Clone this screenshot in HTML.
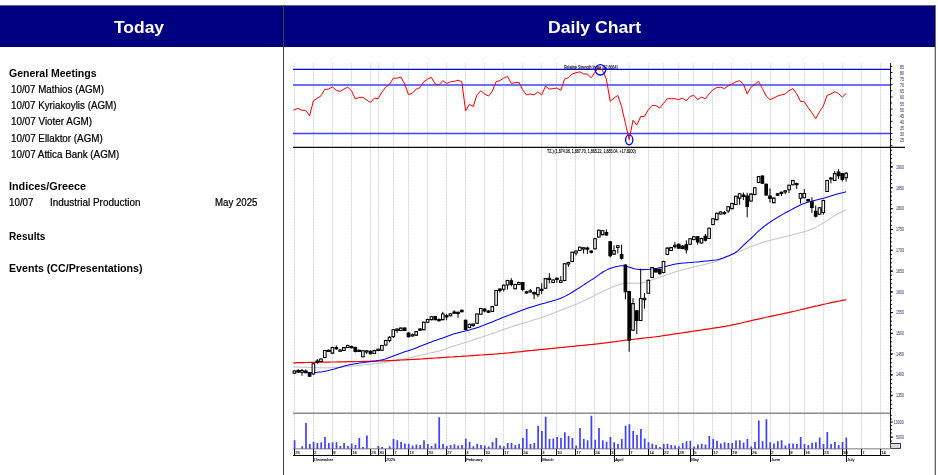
<!DOCTYPE html>
<html><head><meta charset="utf-8"><title>Daily</title>
<style>
html,body{margin:0;padding:0;background:#fff;}
body{width:938px;height:475px;position:relative;overflow:hidden;font-family:"Liberation Sans",sans-serif;color:#000;}
.hdr{position:absolute;left:0;top:5px;width:936px;height:42px;background:#000080;box-sizing:border-box;border-top:1px solid #686868;border-right:1px solid #6e6e6e;}
.vline{position:absolute;left:283px;top:5px;width:1px;height:470px;background:#404040;}
.rline{position:absolute;left:934px;top:47px;width:2px;height:428px;background:linear-gradient(90deg,#c4c4c4 0,#c4c4c4 50%,#6a6a6a 50%,#6a6a6a 100%);}
.h{position:absolute;top:17px;transform-origin:0 50%;color:#fff;font-weight:bold;font-size:16.5px;line-height:20px;white-space:nowrap;}
.t{position:absolute;font-size:10px;line-height:13px;white-space:nowrap;transform-origin:0 50%;}
.r{transform:scaleX(0.978);-webkit-text-stroke:0.22px #000;}
.b{font-weight:bold;transform:scaleX(1.05);}
</style></head><body>
<div class="hdr"></div><div class="vline"></div><div class="rline"></div>
<div class="h" id="h1" style="left:113.5px;transform:scaleX(1.057)">Today</div>
<div class="h" id="h2" style="left:548px;transform:scaleX(1.068)">Daily Chart</div>
<div class="t b" id="t1" style="left:9px;top:67.03px">General Meetings</div>
<div class="t r" id="t2" style="left:10.6px;top:83.03px">10/07 Mathios (AGM)</div>
<div class="t r" id="t3" style="left:10.6px;top:99.03px">10/07 Kyriakoylis (AGM)</div>
<div class="t r" id="t4" style="left:10.6px;top:115.03px;transform:scaleX(0.988)">10/07 Vioter AGM)</div>
<div class="t r" id="t5" style="left:10.6px;top:132.03px;transform:scaleX(0.983)">10/07 Ellaktor (AGM)</div>
<div class="t r" id="t6" style="left:10.6px;top:148.03px;transform:scaleX(0.984)">10/07 Attica Bank (AGM)</div>
<div class="t b" id="t7" style="left:9px;top:180.03px;transform:scaleX(1.082)">Indices/Greece</div>
<div class="t r" id="t8" style="left:9px;top:196.03px">10/07</div>
<div class="t r" id="t9" style="left:49.7px;top:196.03px;transform:scaleX(0.992)">Industrial Production</div>
<div class="t r" id="t10" style="left:214.9px;top:196.03px;transform:scaleX(0.967)">May 2025</div>
<div class="t b" id="t11" style="left:9px;top:230.03px;transform:scaleX(1.008)">Results</div>
<div class="t b" id="t12" style="left:9px;top:262.04px;transform:scaleX(1.0635)">Events (CC/Presentations)</div>
<svg width="938" height="475" viewBox="0 0 938 475" style="position:absolute;left:0;top:0" font-family="Liberation Sans, sans-serif">
<path d="M294.5 63V448M313.5 63V448M332.5 63V448M351.5 63V448M370.5 63V448M378.5 63V448M393.5 63V448M408.5 63V448M427.5 63V448M446.5 63V448M465.5 63V448M484.5 63V448M503.5 63V448M522.5 63V448M541.5 63V448M556.5 63V448M575.5 63V448M594.5 63V448M610.5 63V448M629.5 63V448M648.5 63V448M663.5 63V448M678.5 63V448M693.5 63V448M712.5 63V448M731.5 63V448M751.5 63V448M770.5 63V448M789.5 63V448M804.5 63V448M823.5 63V448M842.5 63V448M861.5 63V448M880.5 63V448" stroke="#e8e8e8" stroke-width="1.2" fill="none"/>
<path d="M294.5 63V448M313.5 63V448M332.5 63V448M351.5 63V448M370.5 63V448M378.5 63V448M393.5 63V448M408.5 63V448M427.5 63V448M446.5 63V448M465.5 63V448M484.5 63V448M503.5 63V448M522.5 63V448M541.5 63V448M556.5 63V448M575.5 63V448M594.5 63V448M610.5 63V448M629.5 63V448M648.5 63V448M663.5 63V448M678.5 63V448M693.5 63V448M712.5 63V448M731.5 63V448M751.5 63V448M770.5 63V448M789.5 63V448M804.5 63V448M823.5 63V448M842.5 63V448M861.5 63V448M880.5 63V448" stroke="#dddddd" stroke-width="1.2" stroke-dasharray="1.2 1.8" fill="none"/>
<path d="M293 69.35H890" stroke="#0000ff" stroke-width="1.3"/>
<path d="M293 84.9H890" stroke="#7070ff" stroke-width="2.05"/>
<path d="M293 133.6H890" stroke="#4242ff" stroke-width="1.5"/>
<polyline points="293.4,110.1 298.2,108.4 302,110.3 305.8,110.5 309.6,115.8 313.4,100.8 317.2,98.3 321,95.8 324.8,89.3 328.6,89.1 332.4,86.9 336.3,90.3 340.1,91.4 343.9,89.1 347.7,87.2 351.5,90.7 355.3,98.9 359.1,97.5 362.9,97.3 366.7,100 370.5,102.5 374.3,98.1 378.1,98.7 381.9,92.2 385.7,87.2 389.5,84.4 393.3,78.3 397.1,78.1 400.9,77.1 404.7,84 408.5,94.7 412.4,93.1 416.2,89.1 420,87.6 423.8,81.7 427.6,79.2 431.4,77.3 435.2,84 439,84.8 442.8,80.6 446.6,83.4 450.4,81.9 454.2,81.3 458,80.2 461.8,81.7 465.6,110.7 469.4,104.4 473.2,106.5 477,94.9 480.8,90.7 484.6,93.9 488.5,96 492.3,91.2 496.1,81.7 499.9,80.6 503.7,78.1 507.5,76.4 511.3,83.4 515.1,82.7 518.9,82.3 522.7,89.7 526.5,94.9 530.3,93.9 534.1,94.9 537.9,91.8 541.7,94.9 545.5,86.1 549.3,89.1 553.1,88.6 556.9,88 560.8,90.3 564.6,79.2 568.4,77.7 572.2,73.9 576,72.8 579.8,71.8 583.6,73.9 587.4,73.9 591.2,77.9 595,72.2 598.8,67.6 602.6,70.7 606.4,79.2 610.2,101.3 614,98.1 617.8,95.4 621.6,106.5 625.4,123.4 629.2,139.6 633,120.2 636.8,125.1 640.7,116.6 644.5,116.4 648.3,109.7 652.1,105.5 655.9,105.5 659.7,108 663.5,103.4 667.3,98.7 671.1,98.7 674.9,98.7 678.7,99.6 682.5,98.1 686.3,100.8 690.1,96.4 693.9,95.4 697.7,99.6 701.5,97.1 705.3,98.7 709.1,93.9 713,89.7 716.8,87.6 720.6,87.2 724.4,88.6 728.2,85.9 732,84 735.8,81.9 739.6,80.6 743.4,84 747.2,93.9 751,87.2 754.8,84.4 758.6,81.3 762.4,88.6 766.2,96 770,99.6 773.8,98.1 777.6,96 781.4,94.9 785.2,93.9 789,90.7 792.9,88.6 796.7,93.9 800.5,101.3 804.3,101.7 808.1,107.6 811.9,112.8 815.7,118.7 819.5,111.8 823.3,106.1 827.1,95.4 830.9,93.9 834.7,91.8 838.5,93.5 842.3,97.1 846.1,93.5" fill="none" stroke="#ff0000" stroke-width="1" stroke-linejoin="round"/>
<path d="M293 147.4H905" stroke="#080808" stroke-width="1.4"/>
<path d="M293 413.2H890" stroke="#8c8c8c" stroke-width="1.6"/>
<path d="M293 448.7H890" stroke="#a6a6a6" stroke-width="1.4"/>
<path d="M293 455.5H890" stroke="#000" stroke-width="1.2"/>
<path d="M890.5 63V443.5" stroke="#000" stroke-width="0.9"/>
<path d="M890 66.4h2.2M890 72.5h2.6M890 78.6h2.2M890 84.7h2.6M890 90.8h2.2M890 96.9h2.6M890 103h2.2M890 109.1h2.6M890 115.2h2.2M890 121.3h2.6M890 127.4h2.2M890 133.5h2.6M890 139.6h2.2M890 145.7h2.6M890 150.3h2.1M890 154.5h2.1M890 158.6h2.1M890 162.8h2.1M890 167h2.1M890 171.1h2.1M890 175.3h2.1M890 179.5h2.1M890 183.6h2.1M890 187.8h2.1M890 192h2.1M890 196.1h2.1M890 200.3h2.1M890 204.4h2.1M890 208.6h2.1M890 212.8h2.1M890 216.9h2.1M890 221.1h2.1M890 225.3h2.1M890 229.4h2.1M890 233.6h2.1M890 237.8h2.1M890 241.9h2.1M890 246.1h2.1M890 250.3h2.1M890 254.4h2.1M890 258.6h2.1M890 262.8h2.1M890 266.9h2.1M890 271.1h2.1M890 275.2h2.1M890 279.4h2.1M890 283.6h2.1M890 287.7h2.1M890 291.9h2.1M890 296.1h2.1M890 300.2h2.1M890 304.4h2.1M890 308.6h2.1M890 312.7h2.1M890 316.9h2.1M890 321.1h2.1M890 325.2h2.1M890 329.4h2.1M890 333.6h2.1M890 337.7h2.1M890 341.9h2.1M890 346.1h2.1M890 350.2h2.1M890 354.4h2.1M890 358.6h2.1M890 362.7h2.1M890 366.9h2.1M890 371h2.1M890 375.2h2.1M890 379.4h2.1M890 383.5h2.1M890 387.7h2.1M890 391.9h2.1M890 396h2.1M890 400.2h2.1M890 404.4h2.1M890 408.5h2.1M890 415.3h2.1M890 419h2.1M890 425.6h2.1M890 429.3h2.1M890 433h2.1M890 441h2.1" stroke="#000" stroke-width="0.9"/>
<text x="564" y="69.1" font-size="4.6" textLength="53.8" lengthAdjust="spacingAndGlyphs" fill="#000" stroke="#000" stroke-width="0.12">Relative Strength Index (82.6664)</text>
<text x="547" y="153.4" font-size="4.8" textLength="88.8" lengthAdjust="spacingAndGlyphs" fill="#000" stroke="#000" stroke-width="0.12">TZ.) (1,874.08, 1,887.70, 1,865.22, 1,885.04, +17.8200)</text>
<circle cx="600.4" cy="69.8" r="5.2" fill="none" stroke="#0000ff" stroke-width="1.3"/>
<ellipse cx="629.2" cy="139.8" rx="3.6" ry="5" fill="none" stroke="#0000ff" stroke-width="1.3"/>
<path d="M294.6 440.2V448.7M302.2 446.2V448.7M306 423.1V448.7M309.8 444V448.7M313.6 441.7V448.7M317.4 443V448.7M321.2 442.3V448.7M325 437V448.7M328.8 443V448.7M332.6 442.3V448.7M336.5 442.3V448.7M340.3 445.9V448.7M344.1 443V448.7M347.9 445.9V448.7M351.7 443.4V448.7M355.5 444.9V448.7M359.3 438V448.7M363.1 447V448.7M366.9 435.5V448.7M378.3 445.9V448.7M382.1 447V448.7M389.7 446.2V448.7M393.5 439.1V448.7M397.3 440.2V448.7M401.1 441.9V448.7M404.9 443.4V448.7M408.7 443.8V448.7M412.6 445.5V448.7M416.4 444.4V448.7M420.2 444.9V448.7M424 440.2V448.7M427.8 444V448.7M431.6 445.9V448.7M435.4 443.4V448.7M439.2 417.2V448.7M443 443.8V448.7M446.8 445.9V448.7M450.6 444.9V448.7M454.4 444.2V448.7M458.2 445.5V448.7M462 444.9V448.7M465.8 438.7V448.7M469.6 441.7V448.7M473.4 446.2V448.7M477.2 443.8V448.7M481 444.9V448.7M484.8 445.5V448.7M488.7 446.6V448.7M492.5 441.9V448.7M496.3 438V448.7M500.1 445.5V448.7M503.9 446.2V448.7M507.7 443V448.7M511.5 443V448.7M515.3 445.1V448.7M519.1 443.8V448.7M522.9 438V448.7M526.7 429.1V448.7M530.5 444V448.7M534.3 443V448.7M538.1 425.7V448.7M541.9 431V448.7M545.7 416.7V448.7M549.5 439.1V448.7M553.3 438.5V448.7M557.1 437V448.7M561 438V448.7M564.8 432.3V448.7M568.6 435.9V448.7M572.4 438V448.7M576.2 445.5V448.7M580 428V448.7M583.8 439.1V448.7M587.6 440.2V448.7M591.4 415.7V448.7M595.2 439.8V448.7M599 428V448.7M602.8 440.2V448.7M606.6 441.7V448.7M610.4 437V448.7M614.2 442.3V448.7M618 444V448.7M621.8 439.1V448.7M625.6 425.7V448.7M629.4 424.2V448.7M633.2 431V448.7M637 434.9V448.7M640.9 429.1V448.7M644.7 438.5V448.7M648.5 442.3V448.7M652.3 443.8V448.7M656.1 444.9V448.7M659.9 447V448.7M663.7 443.8V448.7M667.5 443.8V448.7M671.3 444.9V448.7M675.1 445.5V448.7M678.9 446.2V448.7M682.7 443V448.7M686.5 441.2V448.7M690.3 440.8V448.7M694.1 446.6V448.7M697.9 444.4V448.7M701.7 443.8V448.7M705.5 444.4V448.7M709.3 435.9V448.7M713.2 439.1V448.7M717 440.8V448.7M720.8 443.4V448.7M724.6 442.3V448.7M728.4 443V448.7M732.2 443V448.7M736 440.6V448.7M739.8 440.2V448.7M743.6 442.7V448.7M747.4 439.1V448.7M751.2 446.6V448.7M755 441.9V448.7M758.8 420.4V448.7M762.6 441.2V448.7M766.4 419.3V448.7M770.2 442.3V448.7M774 443.4V448.7M777.8 441.2V448.7M781.6 440.2V448.7M785.4 445.5V448.7M789.2 443.4V448.7M793.1 443.4V448.7M796.9 444V448.7M800.7 437V448.7M804.5 444V448.7M808.3 445.1V448.7M812.1 442.7V448.7M815.9 442.3V448.7M819.7 437.4V448.7M823.5 444V448.7M827.3 432.1V448.7M831.1 444V448.7M834.9 441.9V448.7M838.7 444.9V448.7M842.5 441.9V448.7M846.3 437.4V448.7" stroke="#4040ff" stroke-width="1.7" fill="none"/>
<polyline points="293.4,366.9 295.4,367 297.4,367.1 299.4,367.1 301.4,367.2 303.4,367.3 305.4,367.3 307.4,367.4 309.4,367.5 311.4,367.5 313.4,367.6 315.4,367.7 317.4,367.7 319.4,367.8 321.4,367.8 323.4,367.8 325.4,367.8 327.4,367.8 329.4,367.7 331.4,367.6 333.4,367.6 335.4,367.5 337.4,367.4 339.4,367.2 341.4,367.1 343.4,366.9 345.4,366.7 347.4,366.5 349.4,366.3 351.4,366.1 353.4,365.9 355.4,365.7 357.4,365.5 359.4,365.3 361.4,365.1 363.4,364.9 365.4,364.7 367.4,364.5 369.4,364.3 371.4,364.1 373.4,363.9 375.4,363.7 377.4,363.5 379.4,363.3 381.4,363 383.4,362.7 385.4,362.4 387.4,362.1 389.4,361.8 391.4,361.4 393.4,361.1 395.4,360.7 397.4,360.4 399.4,360 401.4,359.6 403.4,359.2 405.4,358.8 407.4,358.3 409.4,357.9 411.4,357.5 413.4,357 415.4,356.5 417.4,356 419.4,355.6 421.4,355.1 423.4,354.6 425.4,354.1 427.4,353.7 429.4,353.2 431.4,352.7 433.4,352.3 435.4,351.8 437.4,351.4 439.4,350.9 441.4,350.4 443.4,349.8 445.4,349.1 447.4,348.3 449.4,347.5 451.4,346.8 453.4,346.1 455.4,345.5 457.4,344.9 459.4,344.3 461.4,343.7 463.4,343.1 465.4,342.5 467.4,341.9 469.4,341.3 471.4,340.6 473.4,339.9 475.4,339.3 477.4,338.6 479.4,337.9 481.4,337.3 483.4,336.6 485.4,335.9 487.4,335.3 489.4,334.6 491.4,333.9 493.4,333.2 495.4,332.4 497.4,331.7 499.4,331 501.4,330.3 503.4,329.5 505.4,328.9 507.4,328.2 509.4,327.5 511.4,326.8 513.4,326.2 515.4,325.5 517.4,324.9 519.4,324.3 521.4,323.7 523.4,323.1 525.4,322.5 527.4,321.9 529.4,321.3 531.4,320.7 533.4,320.1 535.4,319.5 537.4,318.9 539.4,318.3 541.4,317.6 543.4,316.9 545.4,316.2 547.4,315.5 549.4,314.7 551.4,314 553.4,313.2 555.4,312.4 557.4,311.6 559.4,310.8 561.4,310 563.4,309.1 565.4,308.3 567.4,307.6 569.4,306.8 571.4,306.1 573.4,305.3 575.4,304.6 577.4,303.8 579.4,302.9 581.4,302 583.4,301 585.4,300.1 587.4,299.1 589.4,298.1 591.4,297.1 593.4,296.1 595.4,295.1 597.4,294.1 599.4,293.1 601.4,292.1 603.4,291.1 605.4,290.2 607.4,289.2 609.4,288.3 611.4,287.4 613.4,286.6 615.4,285.8 617.4,285 619.4,284.4 621.4,284 623.4,283.6 625.4,283.4 627.4,283.3 629.4,283.2 631.4,283.2 633.4,283.2 635.4,283.2 637.4,283.2 639.4,283.1 641.4,282.9 643.4,282.6 645.4,282.1 647.4,281.5 649.4,280.9 651.4,280.2 653.4,279.5 655.4,278.8 657.4,278 659.4,277.3 661.4,276.6 663.4,275.9 665.4,275.2 667.4,274.5 669.4,273.8 671.4,273.2 673.4,272.5 675.4,271.9 677.4,271.3 679.4,270.7 681.4,270.1 683.4,269.5 685.4,269 687.4,268.5 689.4,268 691.4,267.5 693.4,267 695.4,266.5 697.4,266.1 699.4,265.7 701.4,265.2 703.4,264.7 705.4,264.3 707.4,263.8 709.4,263.3 711.4,262.8 713.4,262.3 715.4,261.6 717.4,261 719.4,260.2 721.4,259.3 723.4,258.4 725.4,257.5 727.4,256.5 729.4,255.7 731.4,254.8 733.4,254 735.4,253.2 737.4,252.4 739.4,251.5 741.4,250.6 743.4,249.7 745.4,248.9 747.4,248.1 749.4,247.3 751.4,246.5 753.4,245.8 755.4,245 757.4,244.3 759.4,243.5 761.4,242.8 763.4,242.2 765.4,241.6 767.4,241.1 769.4,240.6 771.4,240.1 773.4,239.6 775.4,239.1 777.4,238.6 779.4,238.1 781.4,237.6 783.4,237.1 785.4,236.6 787.4,236.1 789.4,235.6 791.4,235.1 793.4,234.6 795.4,234.1 797.4,233.6 799.4,233 801.4,232.5 803.4,232 805.4,231.4 807.4,230.7 809.4,230 811.4,229.2 813.4,228.4 815.4,227.5 817.4,226.5 819.4,225.4 821.4,224.2 823.4,223 825.4,221.7 827.4,220.3 829.4,219 831.4,217.7 833.4,216.4 835.4,215.2 837.4,214.1 839.4,213 841.4,212 843.4,211 845.4,210.2 846.1,209.5" fill="none" stroke="#bcbcbc" stroke-width="1" stroke-linejoin="round"/>
<polyline points="293.3,362.8 295.3,362.8 297.3,362.7 299.3,362.7 301.3,362.6 303.3,362.6 305.3,362.5 307.3,362.5 309.3,362.4 311.3,362.4 313.3,362.3 315.3,362.3 317.3,362.3 319.3,362.2 321.3,362.2 323.3,362.2 325.3,362.1 327.3,362.1 329.3,362.1 331.3,362 333.3,362 335.3,362 337.3,361.9 339.3,361.9 341.3,361.8 343.3,361.8 345.3,361.8 347.3,361.7 349.3,361.7 351.3,361.7 353.3,361.6 355.3,361.6 357.3,361.5 359.3,361.5 361.3,361.5 363.3,361.4 365.3,361.4 367.3,361.3 369.3,361.3 371.3,361.2 373.3,361.2 375.3,361.1 377.3,361.1 379.3,361 381.3,360.9 383.3,360.8 385.3,360.8 387.3,360.7 389.3,360.6 391.3,360.5 393.3,360.4 395.3,360.3 397.3,360.2 399.3,360.1 401.3,360 403.3,359.9 405.3,359.8 407.3,359.7 409.3,359.6 411.3,359.5 413.3,359.4 415.3,359.3 417.3,359.2 419.3,359.1 421.3,359 423.3,358.8 425.3,358.7 427.3,358.6 429.3,358.4 431.3,358.3 433.3,358.2 435.3,358 437.3,357.9 439.3,357.8 441.3,357.6 443.3,357.5 445.3,357.4 447.3,357.2 449.3,357.1 451.3,357 453.3,356.9 455.3,356.7 457.3,356.6 459.3,356.5 461.3,356.4 463.3,356.2 465.3,356.1 467.3,356 469.3,355.8 471.3,355.7 473.3,355.6 475.3,355.4 477.3,355.3 479.3,355.1 481.3,355 483.3,354.9 485.3,354.7 487.3,354.6 489.3,354.4 491.3,354.3 493.3,354.2 495.3,354 497.3,353.9 499.3,353.7 501.3,353.5 503.3,353.4 505.3,353.2 507.3,353 509.3,352.8 511.3,352.6 513.3,352.4 515.3,352.2 517.3,352 519.3,351.8 521.3,351.6 523.3,351.3 525.3,351.1 527.3,350.9 529.3,350.7 531.3,350.5 533.3,350.3 535.3,350.1 537.3,349.9 539.3,349.7 541.3,349.5 543.3,349.3 545.3,349.1 547.3,348.9 549.3,348.7 551.3,348.5 553.3,348.3 555.3,348.1 557.3,347.9 559.3,347.7 561.3,347.5 563.3,347.3 565.3,347.1 567.3,346.9 569.3,346.7 571.3,346.5 573.3,346.3 575.3,346.1 577.3,345.9 579.3,345.7 581.3,345.5 583.3,345.3 585.3,345.1 587.3,344.9 589.3,344.7 591.3,344.5 593.3,344.3 595.3,344.1 597.3,343.9 599.3,343.7 601.3,343.4 603.3,343.2 605.3,342.9 607.3,342.7 609.3,342.4 611.3,342.1 613.3,341.8 615.3,341.6 617.3,341.3 619.3,341 621.3,340.7 623.3,340.5 625.3,340.2 627.3,340 629.3,339.7 631.3,339.5 633.3,339.3 635.3,339 637.3,338.8 639.3,338.6 641.3,338.4 643.3,338.2 645.3,338 647.3,337.7 649.3,337.5 651.3,337.3 653.3,337 655.3,336.8 657.3,336.5 659.3,336.3 661.3,336 663.3,335.7 665.3,335.4 667.3,335.1 669.3,334.8 671.3,334.5 673.3,334.2 675.3,333.9 677.3,333.6 679.3,333.3 681.3,333 683.3,332.7 685.3,332.4 687.3,332.1 689.3,331.8 691.3,331.5 693.3,331.2 695.3,330.9 697.3,330.6 699.3,330.3 701.3,330 703.3,329.7 705.3,329.4 707.3,329.1 709.3,328.8 711.3,328.5 713.3,328.2 715.3,327.9 717.3,327.6 719.3,327.3 721.3,326.9 723.3,326.6 725.3,326.3 727.3,325.9 729.3,325.6 731.3,325.2 733.3,324.7 735.3,324.3 737.3,323.9 739.3,323.4 741.3,323 743.3,322.5 745.3,322 747.3,321.6 749.3,321.1 751.3,320.7 753.3,320.2 755.3,319.7 757.3,319.3 759.3,318.8 761.3,318.4 763.3,317.9 765.3,317.5 767.3,317 769.3,316.6 771.3,316.2 773.3,315.8 775.3,315.4 777.3,314.9 779.3,314.5 781.3,314.1 783.3,313.7 785.3,313.2 787.3,312.8 789.3,312.4 791.3,311.9 793.3,311.4 795.3,311 797.3,310.5 799.3,310 801.3,309.5 803.3,309.1 805.3,308.6 807.3,308.1 809.3,307.6 811.3,307.2 813.3,306.7 815.3,306.2 817.3,305.8 819.3,305.3 821.3,304.8 823.3,304.4 825.3,304 827.3,303.5 829.3,303.1 831.3,302.7 833.3,302.2 835.3,301.8 837.3,301.4 839.3,301 841.3,300.6 843.3,300.2 845.3,299.9 846.3,299.5" fill="none" stroke="#ff0000" stroke-width="1.2" stroke-linejoin="round"/>
<polyline points="293.4,371.7 295.4,371.8 297.4,371.8 299.4,371.9 301.4,372 303.4,372.1 305.4,372.2 307.4,372.3 309.4,372.4 311.4,372.5 313.4,372.5 315.4,372.4 317.4,372.3 319.4,372.1 321.4,371.9 323.4,371.6 325.4,371.2 327.4,370.8 329.4,370.3 331.4,369.8 333.4,369.3 335.4,368.7 337.4,368.1 339.4,367.5 341.4,366.9 343.4,366.3 345.4,365.8 347.4,365.3 349.4,364.8 351.4,364.4 353.4,364 355.4,363.7 357.4,363.4 359.4,363.1 361.4,362.8 363.4,362.6 365.4,362.3 367.4,362.1 369.4,361.8 371.4,361.6 373.4,361.3 375.4,361 377.4,360.6 379.4,360.3 381.4,359.9 383.4,359.5 385.4,359 387.4,358.3 389.4,357.6 391.4,356.8 393.4,356 395.4,355.2 397.4,354.4 399.4,353.7 401.4,353 403.4,352.2 405.4,351.6 407.4,351 409.4,350.3 411.4,349.7 413.4,349 415.4,348.2 417.4,347.4 419.4,346.6 421.4,345.8 423.4,345 425.4,344.2 427.4,343.4 429.4,342.6 431.4,341.9 433.4,341.1 435.4,340.4 437.4,339.7 439.4,339.1 441.4,338.4 443.4,337.7 445.4,336.9 447.4,336.2 449.4,335.5 451.4,334.7 453.4,334.1 455.4,333.5 457.4,333 459.4,332.5 461.4,332 463.4,331.5 465.4,331 467.4,330.4 469.4,329.9 471.4,329.3 473.4,328.7 475.4,328.2 477.4,327.5 479.4,326.9 481.4,326.1 483.4,325.4 485.4,324.6 487.4,323.8 489.4,323 491.4,322.2 493.4,321.4 495.4,320.6 497.4,319.8 499.4,318.9 501.4,318.1 503.4,317.3 505.4,316.5 507.4,315.7 509.4,315 511.4,314.2 513.4,313.4 515.4,312.7 517.4,311.9 519.4,311.2 521.4,310.5 523.4,309.7 525.4,309 527.4,308.3 529.4,307.6 531.4,307 533.4,306.4 535.4,305.8 537.4,305.2 539.4,304.6 541.4,304 543.4,303.4 545.4,302.9 547.4,302.3 549.4,301.7 551.4,301.2 553.4,300.6 555.4,300.1 557.4,299.5 559.4,298.8 561.4,298 563.4,297.1 565.4,296.1 567.4,295 569.4,293.9 571.4,292.7 573.4,291.5 575.4,290.2 577.4,288.9 579.4,287.7 581.4,286.4 583.4,285.1 585.4,283.7 587.4,282.4 589.4,281.1 591.4,279.9 593.4,278.7 595.4,277.4 597.4,275.9 599.4,274.4 601.4,273 603.4,271.8 605.4,270.6 607.4,269.6 609.4,268.8 611.4,268 613.4,267.4 615.4,266.8 617.4,266.4 619.4,266 621.4,265.8 623.4,265.8 625.4,266 627.4,266.5 629.4,267.2 631.4,267.8 633.4,268.4 635.4,268.9 637.4,269.2 639.4,269.5 641.4,269.6 643.4,269.6 645.4,269.5 647.4,269.4 649.4,269.3 651.4,269.1 653.4,268.8 655.4,268.5 657.4,268.2 659.4,267.8 661.4,267.4 663.4,267 665.4,266.5 667.4,266 669.4,265.5 671.4,265 673.4,264.5 675.4,264 677.4,263.7 679.4,263.5 681.4,263.3 683.4,263.1 685.4,262.9 687.4,262.7 689.4,262.6 691.4,262.4 693.4,262.2 695.4,262.1 697.4,261.9 699.4,261.7 701.4,261.5 703.4,261.3 705.4,261.1 707.4,260.9 709.4,260.7 711.4,260.5 713.4,260.3 715.4,260.1 717.4,259.8 719.4,259.3 721.4,258.6 723.4,257.9 725.4,257.1 727.4,256.3 729.4,255.5 731.4,254.6 733.4,253.7 735.4,252.5 737.4,251.1 739.4,249.3 741.4,247.3 743.4,245.3 745.4,243.5 747.4,241.7 749.4,239.9 751.4,238 753.4,236.1 755.4,234.1 757.4,232.2 759.4,230.4 761.4,228.6 763.4,227 765.4,225.4 767.4,224 769.4,222.6 771.4,221.2 773.4,219.9 775.4,218.7 777.4,217.4 779.4,216.2 781.4,215.1 783.4,213.9 785.4,212.8 787.4,211.7 789.4,210.7 791.4,209.6 793.4,208.5 795.4,207.5 797.4,206.5 799.4,205.5 801.4,204.5 803.4,203.7 805.4,203 807.4,202.3 809.4,201.8 811.4,201.2 813.4,200.7 815.4,200.2 817.4,199.7 819.4,199.2 821.4,198.7 823.4,198.2 825.4,197.7 827.4,197.1 829.4,196.5 831.4,195.8 833.4,195.2 835.4,194.6 837.4,194 839.4,193.4 841.4,192.9 843.4,192.4 845.4,191.9 846.1,191.6" fill="none" stroke="#0000ff" stroke-width="1.05" stroke-linejoin="round"/>
<path d="M294.4 370.3V374M298.2 369.1V372.6M302 368.9V375.7M305.8 369.4V372.9M309.6 372.2V376.8M313.4 363.1V374.6M317.2 359V363.8M321 358.3V362.2M324.8 349.8V358.2M328.6 349.5V352.1M332.4 346.7V353.8M336.3 345.4V349.9M340.1 349.2V351.9M343.9 346.9V351.1M347.7 344.7V348.1M351.5 345.7V348.3M355.3 346.7V352.4M359.1 349.5V352.1M362.9 350.1V357.4M366.7 350.1V353.9M370.5 350.5V354.4M374.3 349.9V354.1M378.1 348.7V351.2M381.9 344.8V351M385.7 339.8V345.6M389.5 336.1V342.4M393.3 329V337.9M397.1 328.5V332.9M400.9 327.4V331.1M404.7 327.4V331.1M408.5 332.2V337.4M412.4 333.5V336.7M416.2 330.9V335.9M420 328.2V331M423.8 321.5V330.4M427.6 318.7V322.9M431.4 316V320.3M435.2 315.8V320.3M439 318.4V321.5M442.8 311.8V320.3M446.6 313.9V320.3M450.4 313V316.5M454.2 310.2V313.9M458 311.6V317.7M461.8 309.5V312.4M465.6 319.6V330.1M469.4 323.6V328.2M473.2 323.7V326.8M477 313.3V324M480.8 307.8V314.9M484.6 308.2V312.3M488.5 310.2V312.9M492.3 305.9V312.1M496.1 289.8V305.8M499.9 288.2V292.7M503.7 284.5V291.5M507.5 279.8V289.6M511.3 278.2V286.4M515.1 283.8V289.4M518.9 281.6V285.2M522.7 281.9V291.2M526.5 290.8V293.7M530.3 288.9V292.7M534.1 291.5V299.1M537.9 287V297.2M541.7 283.3V294M545.5 277.9V289M549.3 273.2V283.3M553.1 279.2V283.1M556.9 277.5V282.8M560.8 276.1V283.1M564.6 263V281.2M568.4 261.7V266.8M572.2 251.6V262.2M576 250.3V255.4M579.8 246.5V251.1M583.6 247.1V253.5M587.4 246.6V253.9M591.2 250.4V253.5M595 238V249.6M598.8 229.5V237.8M602.6 230.1V235.3M606.4 229.5V235.8M610.2 241.1V257.3M614 245.3V254.9M617.8 245V253.5M621.6 244.7V259.5M625.4 264.2V299.4M629.2 290.8V351.6M633 298.2V330.9M636.8 310V334.2M640.7 268.7V321.1M644.5 293.1V308.6M648.3 279.6V293.9M652.1 266.9V278.2M655.9 268.4V272.5M659.7 268.6V274.4M663.5 260.8V273.2M667.3 247.4V255.1M671.1 246.9V251.1M674.9 242.2V248.5M678.7 243.6V248.8M682.5 245.2V249.2M686.3 240.3V253.5M690.1 238V245M693.9 236V240.3M697.7 236V244.7M701.5 237.7V243.7M705.3 233.9V241.5M709.1 227.6V239.1M713 218V225.3M716.8 212.6V220.3M720.6 211.3V214.7M724.4 211.1V214.5M728.2 206V213M732 202.8V209.3M735.8 195.6V205.1M739.6 193.1V204.8M743.4 192.5V200.1M747.2 192.8V217.4M751 193.4V201.7M754.8 187V195.4M758.6 175.9V183.1M762.4 175.4V184M766.2 183.5V195.8M770 188.4V202.6M773.8 197.4V203.3M777.6 193.1V196M781.4 191.5V196M785.2 190V194.1M789 184.6V193.1M792.9 179.8V185.3M796.7 182.7V188.8M800.5 192.8V203.6M804.3 189.1V198.3M808.1 198.7V201.8M811.9 197.3V213.1M815.7 205.5V217.5M819.5 207V215M823.3 199.7V214.6M827.1 179.8V192M830.9 177.2V183.4M834.7 171.1V181.2M838.5 169.1V178.9M842.3 172.9V181.5M846.1 172V181.5" stroke="#000" stroke-width="1" fill="none"/>
<path d="M293.1 371h2.6v2.3h-2.6zM300.7 370.4h2.6v1.9h-2.6zM312.1 363.8h2.6v10.1h-2.6zM315.9 360.9h2.6v1.2h-2.6zM319.7 359h2.6v2.5h-2.6zM323.5 350.5h2.6v6.9h-2.6zM327.3 350.2h2.6v1.3h-2.6zM331.1 347.4h2.6v5.7h-2.6zM338.8 349.9h2.6v1.3h-2.6zM342.6 347.6h2.6v2.8h-2.6zM346.4 345.4h2.6v2h-2.6zM361.6 350.8h2.6v5.9h-2.6zM365.4 350.8h2.6v1.3h-2.6zM373 350.6h2.6v2.8h-2.6zM376.8 349.3h2.6v1.3h-2.6zM380.6 345.5h2.6v4.8h-2.6zM384.4 340.5h2.6v4.4h-2.6zM388.2 337.3h2.6v3.2h-2.6zM392 329.7h2.6v6.9h-2.6zM395.8 329.1h2.6v1.3h-2.6zM399.6 328.1h2.6v2.3h-2.6zM411.1 334.8h2.6v1.2h-2.6zM414.9 331.6h2.6v3.5h-2.6zM418.7 328.9h2.6v1.2h-2.6zM422.5 322.2h2.6v7.6h-2.6zM426.3 319.4h2.6v2.8h-2.6zM430.1 316.7h2.6v2.9h-2.6zM441.5 313.9h2.6v5.7h-2.6zM449.1 313.7h2.6v2.1h-2.6zM452.9 312.1h2.6v1.2h-2.6zM468.1 324.3h2.6v3.2h-2.6zM471.9 324.1h2.6v1.3h-2.6zM475.7 314h2.6v9.3h-2.6zM479.5 308.5h2.6v5.7h-2.6zM491 306.6h2.6v4.8h-2.6zM494.8 290.5h2.6v14.7h-2.6zM502.4 285.2h2.6v4h-2.6zM506.2 280.5h2.6v4.4h-2.6zM513.8 284.5h2.6v4.2h-2.6zM517.6 282.6h2.6v1.9h-2.6zM529 290.8h2.6v1.2h-2.6zM536.6 287.7h2.6v6.9h-2.6zM544.2 278.6h2.6v9.7h-2.6zM548 278.2h2.6v1.2h-2.6zM551.8 279.9h2.6v2.5h-2.6zM559.5 280.7h2.6v1.7h-2.6zM563.3 263.7h2.6v16.8h-2.6zM567.1 262.4h2.6v1.6h-2.6zM570.9 252.3h2.6v9.2h-2.6zM574.7 251h2.6v1.9h-2.6zM578.5 247.2h2.6v3.2h-2.6zM582.3 247.8h2.6v1.2h-2.6zM586.1 248.1h2.6v1.2h-2.6zM593.7 238.7h2.6v10.1h-2.6zM597.5 230.2h2.6v6.9h-2.6zM601.3 230.8h2.6v3.8h-2.6zM612.7 250.6h2.6v3.5h-2.6zM616.5 245.7h2.6v1.9h-2.6zM631.7 303.6h2.6v26.6h-2.6zM639.4 298.5h2.6v21.9h-2.6zM643.2 298.2h2.6v1.4h-2.6zM647 280.3h2.6v12.9h-2.6zM650.8 267.6h2.6v9.9h-2.6zM662.2 261.5h2.6v11h-2.6zM666 248.1h2.6v6.3h-2.6zM669.8 247.6h2.6v2.8h-2.6zM673.6 245.3h2.6v1.3h-2.6zM688.8 238.7h2.6v5.6h-2.6zM692.6 236.7h2.6v2.9h-2.6zM700.2 238.4h2.6v4.7h-2.6zM707.8 228.3h2.6v10.1h-2.6zM711.7 218.7h2.6v5.9h-2.6zM715.5 213.3h2.6v6.3h-2.6zM719.3 212h2.6v2h-2.6zM726.9 206.7h2.6v4.4h-2.6zM730.7 203.5h2.6v5.1h-2.6zM734.5 196.3h2.6v8.1h-2.6zM738.3 193.8h2.6v4.3h-2.6zM749.7 194.1h2.6v6.9h-2.6zM753.5 187.7h2.6v6.9h-2.6zM757.3 176.6h2.6v5.8h-2.6zM772.5 198.1h2.6v4.5h-2.6zM783.9 190.7h2.6v1.3h-2.6zM787.8 185.3h2.6v4.4h-2.6zM791.6 180.5h2.6v4.2h-2.6zM799.2 193.5h2.6v4.7h-2.6zM803 193.5h2.6v4.2h-2.6zM818.2 207.7h2.6v6.6h-2.6zM822 200.4h2.6v12h-2.6zM825.8 180.5h2.6v10.9h-2.6zM829.6 177.9h2.6v1.2h-2.6zM833.4 173.6h2.6v6.8h-2.6zM844.8 173.3h2.6v4.4h-2.6z" stroke="#000" stroke-width="1.05" fill="#fff"/>
<path d="M296.9 370.4h2.6v1.5h-2.6zM304.5 371h2.6v1.6h-2.6zM308.3 372.9h2.6v3.2h-2.6zM335 347.6h2.6v1.2h-2.6zM350.2 346.4h2.6v1.3h-2.6zM354 347.4h2.6v4h-2.6zM357.8 350.2h2.6v1.3h-2.6zM369.2 351.2h2.6v2.5h-2.6zM403.4 328.1h2.6v2.3h-2.6zM407.2 332.9h2.6v3.8h-2.6zM433.9 316.5h2.6v3.2h-2.6zM437.7 319.6h2.6v1.2h-2.6zM445.3 315.8h2.6v1.2h-2.6zM456.7 312.3h2.6v1.2h-2.6zM460.5 310.2h2.6v1.5h-2.6zM464.3 320.3h2.6v9.1h-2.6zM483.3 308.9h2.6v2.1h-2.6zM487.2 311.1h2.6v1.2h-2.6zM498.6 288.9h2.6v1.5h-2.6zM510 280.7h2.6v3.8h-2.6zM521.4 282.6h2.6v6.9h-2.6zM525.2 291.7h2.6v1.2h-2.6zM532.8 292.5h2.6v1.5h-2.6zM540.4 289.2h2.6v1.2h-2.6zM555.6 278.2h2.6v1.3h-2.6zM589.9 251h2.6v1.2h-2.6zM605.1 232.4h2.6v2.5h-2.6zM608.9 241.8h2.6v13.9h-2.6zM620.3 254.4h2.6v3.8h-2.6zM624.1 264.9h2.6v26.7h-2.6zM627.9 291.5h2.6v48.8h-2.6zM635.5 310.7h2.6v9.7h-2.6zM654.6 269.1h2.6v2.8h-2.6zM658.4 269.3h2.6v4.4h-2.6zM677.4 244.3h2.6v3.8h-2.6zM681.2 245.9h2.6v2.5h-2.6zM685 244.7h2.6v5.1h-2.6zM696.4 236.7h2.6v5.4h-2.6zM704 236.2h2.6v4h-2.6zM723.1 212.4h2.6v1.3h-2.6zM742.1 195.1h2.6v1.3h-2.6zM745.9 195.9h2.6v10.5h-2.6zM761.1 176.1h2.6v7.2h-2.6zM764.9 184.2h2.6v10.9h-2.6zM768.7 195.9h2.6v2.5h-2.6zM776.3 193.8h2.6v1.5h-2.6zM780.1 192.2h2.6v1.3h-2.6zM795.4 183.4h2.6v1.3h-2.6zM806.8 199.4h2.6v1.6h-2.6zM810.6 201.7h2.6v5.7h-2.6zM814.4 211.2h2.6v5.1h-2.6zM837.2 172h2.6v3.8h-2.6zM841 173.6h2.6v5.9h-2.6z" stroke="#000" stroke-width="1.05" fill="#000"/>
<path d="M294.5 449V456M313.5 449V456M332.5 449V456M351.5 449V456M370.5 449V456M378.5 449V456M393.5 449V456M408.5 449V456M427.5 449V456M446.5 449V456M465.5 449V456M484.5 449V456M503.5 449V456M522.5 449V456M541.5 449V456M556.5 449V456M575.5 449V456M594.5 449V456M610.5 449V456M629.5 449V456M648.5 449V456M663.5 449V456M678.5 449V456M693.5 449V456M712.5 449V456M731.5 449V456M751.5 449V456M770.5 449V456M789.5 449V456M804.5 449V456M823.5 449V456M842.5 449V456M861.5 449V456M880.5 449V456M313.5 449V462M385.5 449V462M465.5 449V462M541.5 449V462M614.5 449V462M690.5 449V462M770.5 449V462M846.5 449V462" stroke="#000" stroke-width="0.95"/>
<g font-size="4.1" fill="#000" stroke="#000" stroke-width="0.1">
<text x="295.2" y="453.7">25</text>
<text x="314.2" y="453.7">2</text>
<text x="333.2" y="453.7">9</text>
<text x="352.2" y="453.7">16</text>
<text x="371.2" y="453.7">23</text>
<text x="379.2" y="453.7">30</text>
<text x="394.2" y="453.7">7</text>
<text x="409.2" y="453.7">13</text>
<text x="428.2" y="453.7">20</text>
<text x="447.2" y="453.7">27</text>
<text x="466.2" y="453.7">3</text>
<text x="485.2" y="453.7">10</text>
<text x="504.2" y="453.7">17</text>
<text x="523.2" y="453.7">24</text>
<text x="542.2" y="453.7">3</text>
<text x="557.2" y="453.7">10</text>
<text x="576.2" y="453.7">17</text>
<text x="595.2" y="453.7">24</text>
<text x="611.2" y="453.7">31</text>
<text x="630.2" y="453.7">7</text>
<text x="649.2" y="453.7">14</text>
<text x="664.2" y="453.7">22</text>
<text x="679.2" y="453.7">28</text>
<text x="694.2" y="453.7">5</text>
<text x="713.2" y="453.7">12</text>
<text x="732.2" y="453.7">19</text>
<text x="752.2" y="453.7">26</text>
<text x="771.2" y="453.7">2</text>
<text x="790.2" y="453.7">9</text>
<text x="805.2" y="453.7">16</text>
<text x="824.2" y="453.7">23</text>
<text x="843.2" y="453.7">30</text>
<text x="862.2" y="453.7">7</text>
<text x="881.2" y="453.7">14</text>
<text x="314.2" y="460.7">December</text>
<text x="386.2" y="460.7">2025</text>
<text x="466.2" y="460.7">February</text>
<text x="542.2" y="460.7">March</text>
<text x="615.2" y="460.7">April</text>
<text x="691.2" y="460.7">May</text>
<text x="771.2" y="460.7">June</text>
<text x="847.2" y="460.7">July</text>
</g>
<g font-size="4.7" fill="#26265e">
<text x="900" y="68.8" textLength="4.1" lengthAdjust="spacingAndGlyphs">85</text>
<text x="900" y="74.5" textLength="4.1" lengthAdjust="spacingAndGlyphs">80</text>
<text x="900" y="80.5" textLength="4.1" lengthAdjust="spacingAndGlyphs">75</text>
<text x="900" y="86.5" textLength="4.1" lengthAdjust="spacingAndGlyphs">70</text>
<text x="900" y="92.8" textLength="4.1" lengthAdjust="spacingAndGlyphs">65</text>
<text x="900" y="98.8" textLength="4.1" lengthAdjust="spacingAndGlyphs">60</text>
<text x="900" y="105.8" textLength="4.1" lengthAdjust="spacingAndGlyphs">55</text>
<text x="900" y="111.8" textLength="4.1" lengthAdjust="spacingAndGlyphs">50</text>
<text x="900" y="117.8" textLength="4.1" lengthAdjust="spacingAndGlyphs">45</text>
<text x="900" y="123.8" textLength="4.1" lengthAdjust="spacingAndGlyphs">40</text>
<text x="900" y="129.8" textLength="4.1" lengthAdjust="spacingAndGlyphs">35</text>
<text x="900" y="135.8" textLength="4.1" lengthAdjust="spacingAndGlyphs">30</text>
<text x="900" y="141.6" textLength="4.1" lengthAdjust="spacingAndGlyphs">25</text>
<text x="896" y="168.7" textLength="8" lengthAdjust="spacingAndGlyphs">1900</text>
<text x="896" y="189.6" textLength="8" lengthAdjust="spacingAndGlyphs">1850</text>
<text x="896" y="210.4" textLength="8" lengthAdjust="spacingAndGlyphs">1800</text>
<text x="896" y="231.2" textLength="8" lengthAdjust="spacingAndGlyphs">1750</text>
<text x="896" y="252.1" textLength="8" lengthAdjust="spacingAndGlyphs">1700</text>
<text x="896" y="272.9" textLength="8" lengthAdjust="spacingAndGlyphs">1650</text>
<text x="896" y="293.6" textLength="8" lengthAdjust="spacingAndGlyphs">1600</text>
<text x="896" y="314.2" textLength="8" lengthAdjust="spacingAndGlyphs">1550</text>
<text x="896" y="334.9" textLength="8" lengthAdjust="spacingAndGlyphs">1500</text>
<text x="896" y="355.6" textLength="8" lengthAdjust="spacingAndGlyphs">1450</text>
<text x="896" y="376.4" textLength="8" lengthAdjust="spacingAndGlyphs">1400</text>
<text x="896" y="397.1" textLength="8" lengthAdjust="spacingAndGlyphs">1350</text>
<text x="893.8" y="423.9" textLength="10.1" lengthAdjust="spacingAndGlyphs">10000</text><text x="895.9" y="438.7" textLength="8" lengthAdjust="spacingAndGlyphs">5000</text>
</g>
<path d="M890 166.9h2.9M890 187.8h2.9M890 208.7h2.9M890 229.5h2.9M890 250.3h2.9M890 271.1h2.9M890 291.9h2.9M890 312.5h2.9M890 333.2h2.9M890 353.9h2.9M890 374.7h2.9M890 395.3h2.9M890 422h2.9M890 437.1h2.9" stroke="#000" stroke-width="1.1"/>
<rect x="890.7" y="443.6" width="9.7" height="4.7" fill="#fff" stroke="#111" stroke-width="0.9"/>
<text x="892" y="447.3" font-size="3.6" fill="#8a8aa8" textLength="7" lengthAdjust="spacingAndGlyphs">x100</text>
</svg>
</body></html>
